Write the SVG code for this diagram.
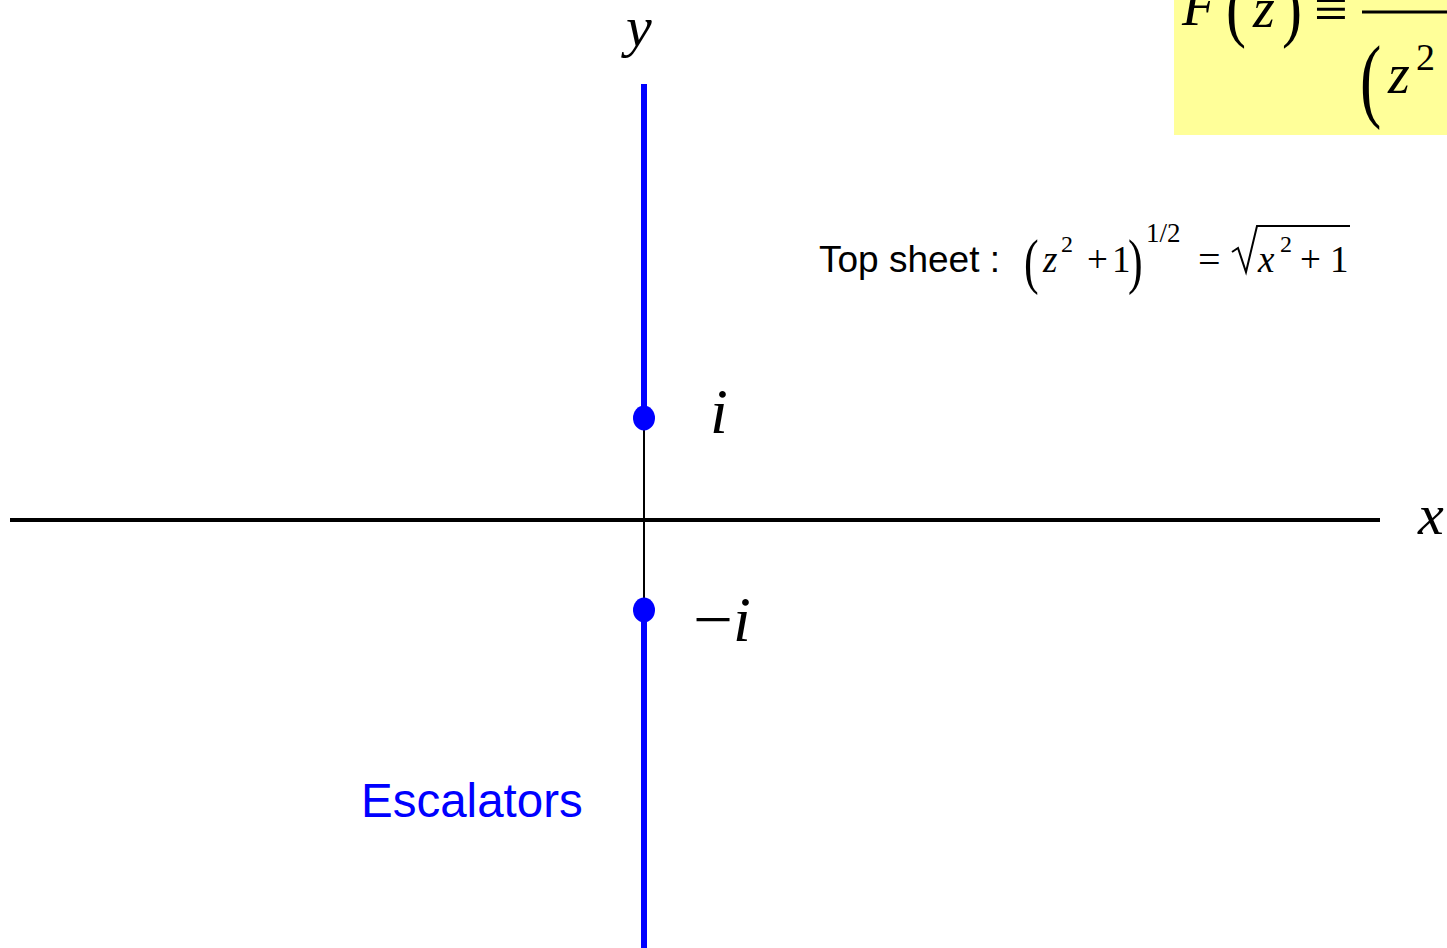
<svg xmlns="http://www.w3.org/2000/svg" width="1447" height="948" viewBox="0 0 1447 948">
<style>
.m{font-family:"Liberation Serif","Times New Roman",serif;fill:#000}
.it{font-style:italic}
.s{font-family:"Liberation Sans",Arial,sans-serif}
</style>
<rect width="1447" height="948" fill="#fff"/>
<g id="formula-box">
<rect x="1174" y="-2" width="275" height="137" fill="#FFFF99"/>
<text class="m it" x="1182" y="25" font-size="56">F</text>
<text class="m" x="1226" y="33" font-size="60" transform="translate(1226 33) scale(1 1.25) translate(-1226 -33)">(</text>
<text class="m it" x="1253" y="27" font-size="56">z</text>
<text class="m" x="1282" y="33" font-size="60" transform="translate(1282 33) scale(1 1.25) translate(-1282 -33)">)</text>
<text class="m" x="1314" y="29" font-size="60">≡</text>
<line x1="1362" y1="12" x2="1447" y2="12" stroke="#000" stroke-width="3"/>
<text class="m" x="1360" y="110" font-size="64" transform="translate(1360 110) scale(1 1.45) translate(-1360 -110)">(</text>
<text class="m it" x="1388" y="93" font-size="56">z</text>
<text class="m" x="1416" y="70" font-size="38">2</text>
</g>
<g id="axes">
<line x1="10" y1="520" x2="1380" y2="520" stroke="#000" stroke-width="4"/>
<line x1="644" y1="417" x2="644" y2="610" stroke="#000" stroke-width="2"/>
</g>
<g id="branch-cuts" fill="none" stroke="#0000FF" stroke-width="6">
<line x1="644" y1="84" x2="644" y2="417"/>
<line x1="644" y1="610" x2="644" y2="948"/>
</g>
<g id="point-i">
<ellipse cx="644" cy="418" rx="11" ry="12.5" fill="#0000FF"/>
<text class="m it" x="710" y="433" font-size="64">i</text>
</g>
<g id="point-minus-i">
<ellipse cx="644" cy="610" rx="11" ry="12.5" fill="#0000FF"/>
<text class="m" x="693" y="641" font-size="64" textLength="40" lengthAdjust="spacingAndGlyphs">−</text>
<text class="m it" x="733" y="641" font-size="64">i</text>
</g>
<g id="labels">
<text class="m it" x="626" y="46" font-size="58">y</text>
<text class="m it" x="1418" y="534" font-size="58">x</text>
<text class="s" x="361" y="817" font-size="47.5" fill="#0000FF">Escalators</text>
</g>
<g id="top-sheet">
<text class="s" x="819" y="272" font-size="37">Top sheet :</text>
<text class="m" x="1024" y="282" font-size="44" transform="translate(1024 282) scale(1 1.4) translate(-1024 -282)">(</text>
<text class="m it" x="1043" y="272" font-size="37">z</text>
<text class="m" x="1061" y="252" font-size="24">2</text>
<text class="m" x="1087" y="272" font-size="37">+</text>
<text class="m" x="1112" y="272" font-size="37">1</text>
<text class="m" x="1128" y="282" font-size="44" transform="translate(1128 282) scale(1 1.4) translate(-1128 -282)">)</text>
<text class="m" x="1146" y="242" font-size="27">1/2</text>
<text class="m" x="1198" y="273" font-size="40">=</text>
<path d="M1232 252 L1238 248 L1246 272 L1257 226 L1350 226" fill="none" stroke="#000" stroke-width="2"/>
<text class="m it" x="1258" y="272" font-size="37">x</text>
<text class="m" x="1280" y="252" font-size="24">2</text>
<text class="m" x="1300" y="272" font-size="37">+</text>
<text class="m" x="1330" y="272" font-size="37">1</text>
</g>
</svg>
